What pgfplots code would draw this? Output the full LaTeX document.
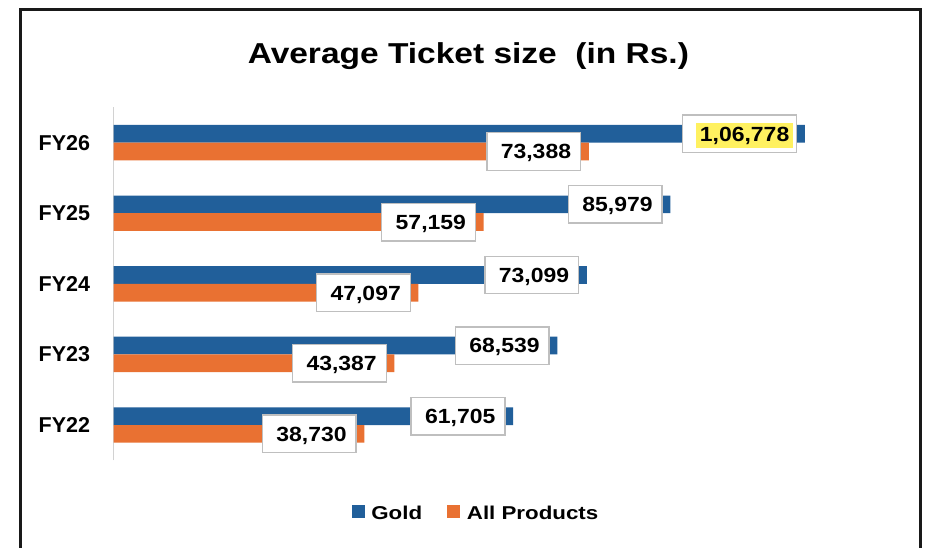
\documentclass[border=0pt]{standalone}
\usepackage{pgfplots}
\pgfplotsset{compat=1.18}
\usepackage{fontspec}
\setmainfont{Liberation Sans}
\newfontfamily\titlefont[FakeStretch=1.163]{Liberation Sans}
\newfontfamily\labfont[FakeStretch=1.12]{Liberation Sans}
\newfontfamily\legfont[FakeStretch=1.2]{Liberation Sans}
\definecolor{goldblue}{RGB}{33,95,154}
\definecolor{allorange}{RGB}{233,113,50}
\definecolor{hlyellow}{RGB}{255,241,96}
\definecolor{boxgray}{RGB}{191,191,191}
\definecolor{axgray}{RGB}{210,210,210}
\newcommand\nl[1]{\hspace*{14pt}#1\hspace*{9.5pt}}
\newcommand\hl[1]{\hspace*{14pt}{\setlength{\fboxsep}{3.5pt}\colorbox{hlyellow}{#1}}\hspace*{4pt}}
\begin{document}
\begin{tikzpicture}
\useasboundingbox (0pt,0pt) rectangle (926pt,-548pt);
\fill[white] (0pt,0pt) rectangle (926pt,-548pt);
\draw[line width=2.5pt, black!90] (20.5pt,-548pt) -- (20.5pt,-9.5pt) -- (920.5pt,-9.5pt) -- (920.5pt,-548pt);
\node[anchor=base, inner sep=0pt, font=\titlefont\bfseries\fontsize{28.8}{32}\selectfont] at (468.4pt,-63.3pt) {Average Ticket size\ \ (in Rs.)};
\begin{axis}[
  at={(113.5pt,-460.3pt)}, anchor=south west,
  scale only axis, width=777.1pt, height=353pt,
  xmin=0, xmax=120000, ymin=-0.5, ymax=4.5,
  xbar, bar width=17.7pt,
  axis x line=none, axis y line*=left,
  y axis line style={draw=axgray, line width=1.6pt},
  xtick=\empty,
  ytick={0,1,2,3,4},
  yticklabels={FY22,FY23,FY24,FY25,FY26},
  ytick style={draw=none},
  yticklabel style={anchor=east, inner sep=0pt, xshift=-19pt, font=\bfseries\fontsize{21.5}{24}\selectfont},
  clip=false,
  point meta=explicit symbolic,
  nodes near coords,
  every node near coord/.append style={anchor=east, xshift=-7.5pt, fill=white, draw=boxgray, line width=1.4pt,
     inner xsep=0pt, inner ysep=0pt, minimum height=37.5pt, text height=14.7pt, text depth=0pt,
     font=\labfont\bfseries\fontsize{20.5}{24}\selectfont, text=black},
  legend columns=-1,
  legend image code/.code={\fill[#1] (0pt,-4.8pt) rectangle (13pt,8.2pt);},
  legend style={at={(0.4652,-0.149)}, anchor=center, draw=none, fill=none, inner sep=0pt,
     nodes={inner xsep=0pt, inner ysep=0pt},
     font=\legfont\bfseries\fontsize{18.6}{22}\selectfont,
     /tikz/every odd column/.append style={column sep=6.7pt},
     /tikz/every even column/.append style={column sep=25pt}},
]
\addplot[fill=goldblue, draw=none, bar shift=8.85pt] coordinates {
  (61705,0) [\nl{61,705}]
  (68539,1) [\nl{68,539}]
  (73099,2) [\nl{73,099}]
  (85979,3) [\nl{85,979}]
  (106778,4) [\hl{1,06,778}]
};
\addplot[fill=allorange, draw=none, bar shift=-8.85pt] coordinates {
  (38730,0) [\nl{38,730}]
  (43387,1) [\nl{43,387}]
  (47097,2) [\nl{47,097}]
  (57159,3) [\nl{57,159}]
  (73388,4) [\nl{73,388}]
};
\legend{Gold,All Products}
\end{axis}
\end{tikzpicture}
\end{document}
